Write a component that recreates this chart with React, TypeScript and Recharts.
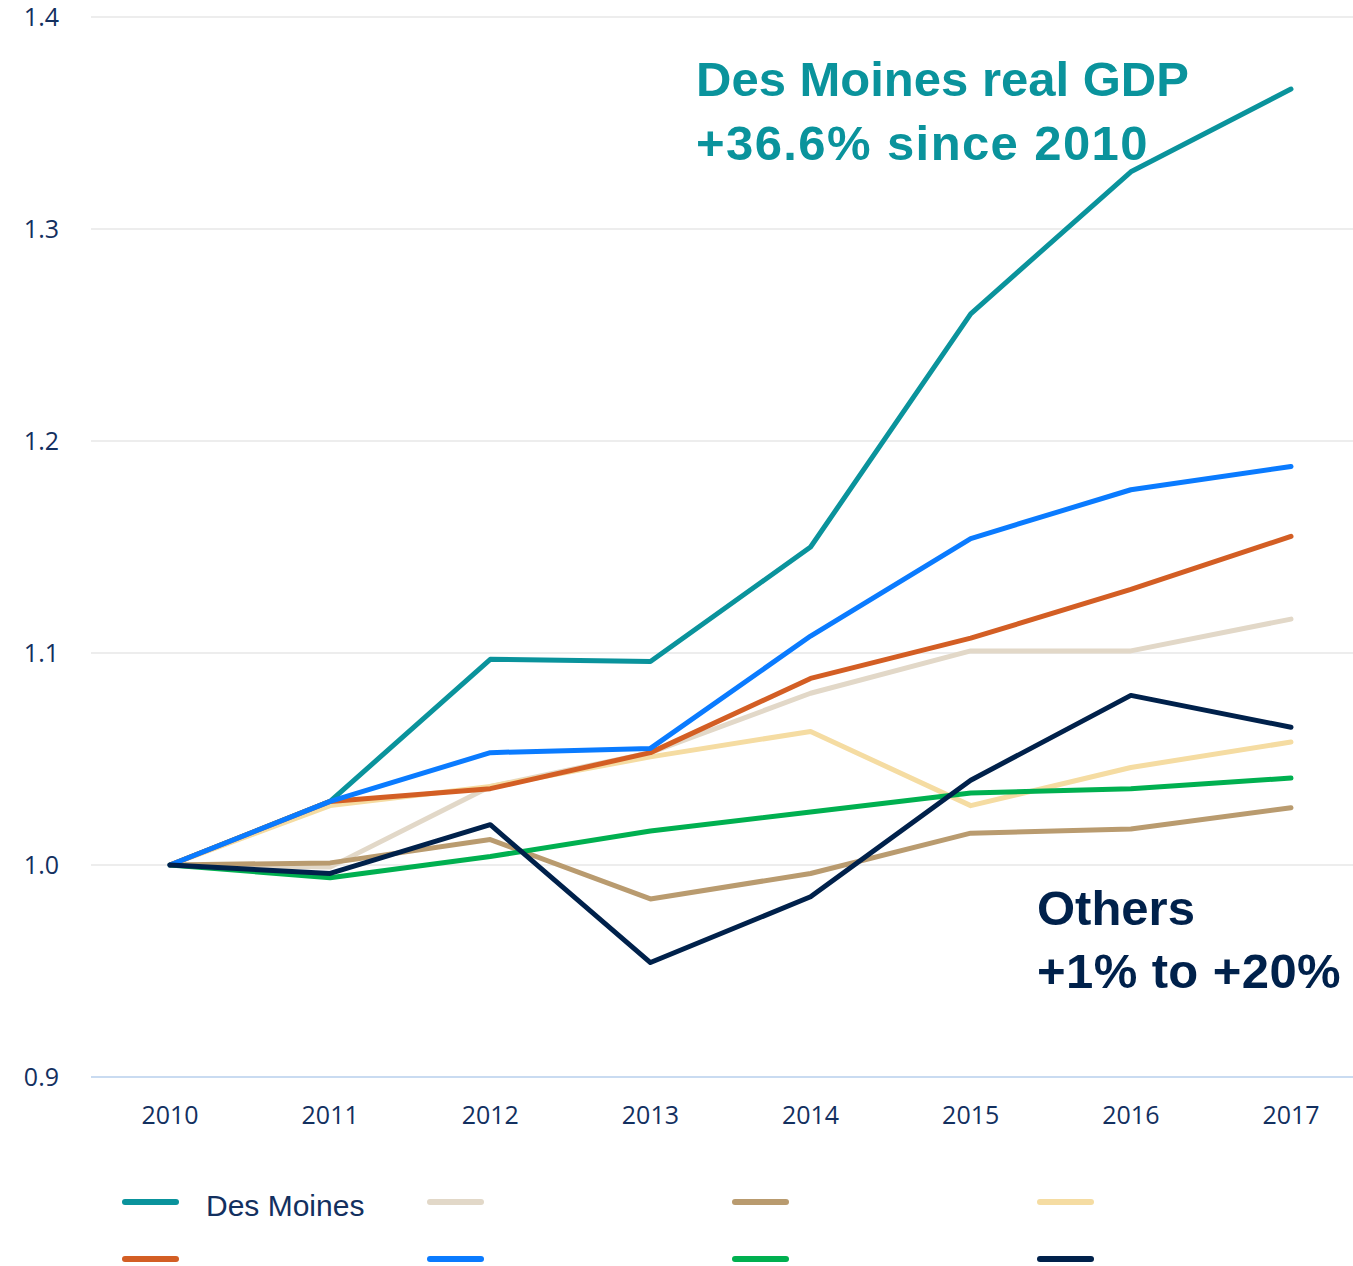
// Dependencies
import {
  LineChart,
  Line,
  XAxis,
  YAxis,
  CartesianGrid,
  Legend,
} from 'recharts';

// Data
const years = ['2010', '2011', '2012', '2013', '2014', '2015', '2016', '2017'];
const yTicks = [0.9, 1.0, 1.1, 1.2, 1.3, 1.4];

const desMoines = [1.0, 1.03, 1.097, 1.096, 1.15, 1.26, 1.327, 1.366];
const peerBeige = [1.0, 0.999, 1.037, 1.053, 1.081, 1.101, 1.101, 1.116];
const peerTan = [1.0, 1.001, 1.012, 0.984, 0.996, 1.015, 1.017, 1.027];
const peerYellow = [1.0, 1.028, 1.037, 1.051, 1.063, 1.028, 1.046, 1.058];
const peerOrange = [1.0, 1.03, 1.036, 1.053, 1.088, 1.107, 1.13, 1.155];
const peerBlue = [1.0, 1.03, 1.053, 1.055, 1.108, 1.154, 1.177, 1.188];
const peerGreen = [1.0, 0.994, 1.004, 1.016, 1.025, 1.034, 1.036, 1.041];
const peerNavy = [1.0, 0.996, 1.019, 0.954, 0.985, 1.04, 1.08, 1.065];

// legend order (two rows of four); only Des Moines carries a label
const series = [
  { key: 'desMoines', label: 'Des Moines', color: '#0A939C', values: desMoines },
  { key: 'peerBeige', label: '', color: '#E2D8C8', values: peerBeige },
  { key: 'peerTan', label: '', color: '#B99B6F', values: peerTan },
  { key: 'peerYellow', label: '', color: '#F5DCA2', values: peerYellow },
  { key: 'peerOrange', label: '', color: '#D35E24', values: peerOrange },
  { key: 'peerBlue', label: '', color: '#0A7BFF', values: peerBlue },
  { key: 'peerGreen', label: '', color: '#00B050', values: peerGreen },
  { key: 'peerNavy', label: '', color: '#00214B', values: peerNavy },
];

// order lines are painted in (last on top)
const drawOrder = [
  'desMoines',
  'peerBeige',
  'peerTan',
  'peerYellow',
  'peerGreen',
  'peerOrange',
  'peerBlue',
  'peerNavy',
];

const chartData = years.map((year, i) => {
  const row: Record<string, string | number> = { year };
  series.forEach((s) => {
    row[s.key] = s.values[i];
  });
  return row;
});

const NAVY = '#13305F';
const TICK_FONT = '"Open Sans", sans-serif';
const BOLD_FONT = '"Liberation Sans", Arial, sans-serif';

const LegendContent = () => (
  <div style={{ position: 'relative', width: 1353, height: 90 }}>
    {series.map((s, i) => {
      const col = i % 4;
      const row = Math.floor(i / 4);
      return (
        <div
          key={s.key}
          style={{
            position: 'absolute',
            left: 122 + col * 305,
            top: row * 57,
            display: 'flex',
            alignItems: 'center',
            height: 44,
          }}
        >
          <span
            style={{
              display: 'inline-block',
              width: 57,
              height: 6,
              borderRadius: 3,
              background: s.color,
            }}
          />
          <span
            style={{
              marginLeft: 27,
              paddingTop: 7,
              fontFamily: BOLD_FONT,
              fontSize: 30,
              color: NAVY,
            }}
          >
            {s.label}
          </span>
        </div>
      );
    })}
  </div>
);

const App = () => {
  return (
    <div style={{ position: 'absolute', left: 0, top: 0, background: '#fff' }}>
      <LineChart
        width={1353}
        height={1266}
        data={chartData}
        margin={{ top: 17, right: 0, bottom: 129, left: 0 }}
      >
        <CartesianGrid vertical={false} stroke="#EDEDED" strokeWidth={2} />
        <XAxis
          dataKey="year"
          padding={{ left: 79, right: 62 }}
          height={60}
          axisLine={{ stroke: '#C9DBF1', strokeWidth: 2 }}
          tickLine={false}
          tickSize={0}
          tickMargin={29}
          tick={{ fill: NAVY, fontSize: 25, fontFamily: TICK_FONT }}
        />
        <YAxis
          domain={[0.9, 1.4]}
          ticks={yTicks}
          width={91}
          axisLine={false}
          tickLine={false}
          tickSize={0}
          tickMargin={32}
          tickFormatter={(v: number) => v.toFixed(1)}
          tick={{ fill: NAVY, fontSize: 25, fontFamily: TICK_FONT }}
        />
        <Legend
          layout="horizontal"
          verticalAlign="middle"
          align="center"
          wrapperStyle={{ left: 0, top: 1180, width: 1353 }}
          content={() => <LegendContent />}
        />
        {drawOrder.map((key) => {
          const s = series.find((item) => item.key === key)!;
          return (
            <Line
              key={key}
              dataKey={key}
              name={s.label || key}
              stroke={s.color}
              strokeWidth={5}
              strokeLinecap="round"
              strokeLinejoin="round"
              dot={false}
              activeDot={false}
              isAnimationActive={false}
            />
          );
        })}
        <text
          x={696}
          fill="#0A939C"
          fontFamily={BOLD_FONT}
          fontWeight="bold"
          fontSize={49}
        >
          <tspan x={696} y={96}>Des Moines real GDP</tspan>
          <tspan x={696} y={160} letterSpacing={1.4}>+36.6% since 2010</tspan>
        </text>
        <text
          x={1037}
          fill="#00214B"
          fontFamily={BOLD_FONT}
          fontWeight="bold"
          fontSize={49}
        >
          <tspan x={1037} y={925}>Others</tspan>
          <tspan x={1037} y={988} letterSpacing={0.4}>+1% to +20%</tspan>
        </text>
      </LineChart>
    </div>
  );
};

export default App;
